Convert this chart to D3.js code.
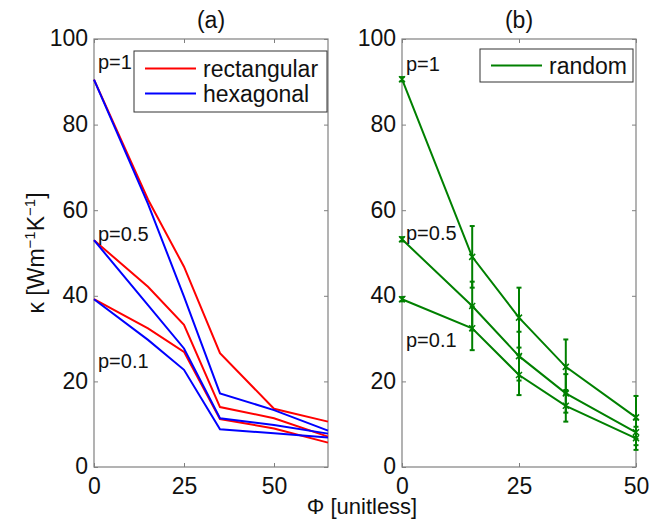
<!DOCTYPE html>
<html>
<head>
<meta charset="utf-8">
<script src="https://cdn.jsdelivr.net/npm/d3@7"></script>
<style>
  body { margin: 0; background: #fff; }
  svg { display: block; font-family: "Liberation Sans", Arial, sans-serif; }
</style>
</head>
<body>
<svg id="chart" width="649" height="520"></svg>
<script>
// ---- data ----
const yTicks = [0, 20, 40, 60, 80, 100];
const xTicks = [0, 25, 50];

const phiA = [0, 15, 25, 35, 50, 65];
const rectP1  = [90.5, 62.5, 46.8, 26.6, 13.6, 10.6];
const rectP05 = [53.0, 42.1, 33.2, 14.0, 11.4, 7.1];
const rectP01 = [39.2, 32.4, 26.9, 11.2, 9.0, 5.7];
const hexP1   = [90.5, 61.5, 39.8, 17.2, 13.3, 8.5];
const hexP05  = [53.0, 37.8, 27.7, 11.4, 9.8, 7.8];
const hexP01  = [39.2, 29.7, 22.7, 8.8, 7.9, 6.9];

const phiB = [0, 15, 25, 35, 50];
const rand1  = [90.6, 49.1, 34.9, 23.4, 11.6];
const err1   = [0.5, 7.2, 7.0, 6.4, 5.0];
const rand05 = [53.2, 37.6, 25.9, 17.2, 8.1];
const err05  = [0.5, 5.7, 5.7, 4.5, 3.0];
const rand01 = [39.2, 32.4, 21.5, 14.3, 6.7];
const err01  = [0.5, 5.1, 4.7, 3.7, 2.7];

// ---- layout ----
const svg = d3.select("#chart");
const y = d3.scaleLinear().domain([0, 100]).range([467, 39]);
const xa = d3.scaleLinear().domain([0, 65]).range([94, 328]);
const xb = d3.scaleLinear().domain([0, 50]).range([402, 636]);
const AX = "#808080";
const FS = 23;

function frame(x, title) {
  const [x0, x1] = x.range();
  const [y0, y1] = y.range();
  const g = svg.append("g");
  g.append("rect").attr("x", x0).attr("y", y1).attr("width", x1 - x0).attr("height", y0 - y1)
    .attr("fill", "none").attr("stroke", AX).attr("stroke-width", 1.2);
  const gl = g.append("g").attr("transform", `translate(${x0},0)`)
    .call(d3.axisLeft(y).tickValues(yTicks).tickSizeInner(-4).tickSizeOuter(0).tickPadding(6));
  const gr = g.append("g").attr("transform", `translate(${x1},0)`)
    .call(d3.axisRight(y).tickValues(yTicks).tickSizeInner(-4).tickSizeOuter(0).tickFormat(""));
  const gb = g.append("g").attr("transform", `translate(0,${y0})`)
    .call(d3.axisBottom(x).tickValues(xTicks).tickSizeInner(-4).tickSizeOuter(0).tickPadding(11));
  const gt = g.append("g").attr("transform", `translate(0,${y1})`)
    .call(d3.axisTop(x).tickValues(xTicks).tickSizeInner(-4).tickSizeOuter(0).tickFormat(""));
  [gl, gr, gb, gt].forEach(a => {
    a.select(".domain").remove();
    a.selectAll(".tick line").attr("stroke", AX);
    a.selectAll("text").attr("fill", "#111").style("font-size", FS + "px")
      .style("font-family", "'Liberation Sans', Arial, sans-serif");
  });
  gl.selectAll("text").attr("dy", "0.3em");
  gb.selectAll("text").attr("dy", "0.71em");
  g.append("text").attr("x", (x0 + x1) / 2).attr("y", 28).attr("text-anchor", "middle")
    .style("font-size", FS + "px").attr("fill", "#111").text(title);
}

frame(xa, "(a)");
frame(xb, "(b)");

// ---- panel (a) lines ----
const lineA = d3.line().x((d, i) => xa(phiA[i])).y(d => y(d));
[[rectP1, "#ff0000"], [rectP05, "#ff0000"], [rectP01, "#ff0000"],
 [hexP1, "#0000ff"], [hexP05, "#0000ff"], [hexP01, "#0000ff"]].forEach(([s, c]) => {
  svg.append("path").attr("d", lineA(s)).attr("fill", "none").attr("stroke", c).attr("stroke-width", 2);
});

// ---- panel (b) lines with error bars ----
const GREEN = "#008000";
const lineB = d3.line().x((d, i) => xb(phiB[i])).y(d => y(d));
[[rand1, err1], [rand05, err05], [rand01, err01]].forEach(([s, e]) => {
  svg.append("path").attr("d", lineB(s)).attr("fill", "none").attr("stroke", GREEN).attr("stroke-width", 2);
  const gE = svg.append("g").attr("stroke", GREEN).attr("stroke-width", 2);
  s.forEach((v, i) => {
    const cx = xb(phiB[i]);
    const yt = y(v + e[i]), yb = y(v - e[i]), yc = y(v);
    gE.append("line").attr("x1", cx).attr("x2", cx).attr("y1", yt).attr("y2", yb);
    gE.append("line").attr("x1", cx - 2.5).attr("x2", cx + 2.5).attr("y1", yt).attr("y2", yt);
    gE.append("line").attr("x1", cx - 2.5).attr("x2", cx + 2.5).attr("y1", yb).attr("y2", yb);
    gE.append("path").attr("stroke-width", 1.5)
      .attr("d", `M${cx - 3},${yc - 3}L${cx + 3},${yc + 3}M${cx - 3},${yc + 3}L${cx + 3},${yc - 3}`);
  });
});

// ---- annotations ----
const ann = [
  [xa, "p=1", 69],
  [xa, "p=0.5", 241],
  [xa, "p=0.1", 368],
  [xb, "p=1", 71],
  [xb, "p=0.5", 240],
  [xb, "p=0.1", 347]
];
ann.forEach(([x, t, by]) => {
  svg.append("text").attr("x", x.range()[0] + 4).attr("y", by)
    .style("font-size", "20px").attr("fill", "#111").text(t);
});

// ---- legends ----
function legend(x0, y0, w, h, items) {
  const g = svg.append("g");
  g.append("rect").attr("x", x0).attr("y", y0).attr("width", w).attr("height", h)
    .attr("fill", "#fff").attr("stroke", "#333").attr("stroke-width", 1);
  items.forEach(([label, color, ly]) => {
    g.append("line").attr("x1", x0 + 11).attr("x2", x0 + 62).attr("y1", ly).attr("y2", ly)
      .attr("stroke", color).attr("stroke-width", 2);
    g.append("text").attr("x", x0 + 69).attr("y", ly + 8.5)
      .style("font-size", FS + "px").attr("fill", "#111").text(label);
  });
}
legend(134, 51, 193, 61, [["rectangular", "#ff0000", 68.5], ["hexagonal", "#0000ff", 93.5]]);
legend(480, 49, 153, 33, [["random", GREEN, 65.5]]);

// ---- axis titles ----
const yl = svg.append("text").attr("transform", "translate(44,253) rotate(-90)")
  .attr("text-anchor", "middle").style("font-size", FS + "px").attr("fill", "#111");
yl.append("tspan").text("\u03BA [Wm");
yl.append("tspan").attr("dy", -9).style("font-size", "15px").text("\u22121");
yl.append("tspan").attr("dy", 9).text("K");
yl.append("tspan").attr("dy", -9).style("font-size", "15px").text("\u22121");
yl.append("tspan").attr("dy", 9).text("]");

svg.append("text").attr("x", 362).attr("y", 514).attr("text-anchor", "middle")
  .style("font-size", "22px").attr("fill", "#111").text("\u03A6 [unitless]");
</script>
</body>
</html>
